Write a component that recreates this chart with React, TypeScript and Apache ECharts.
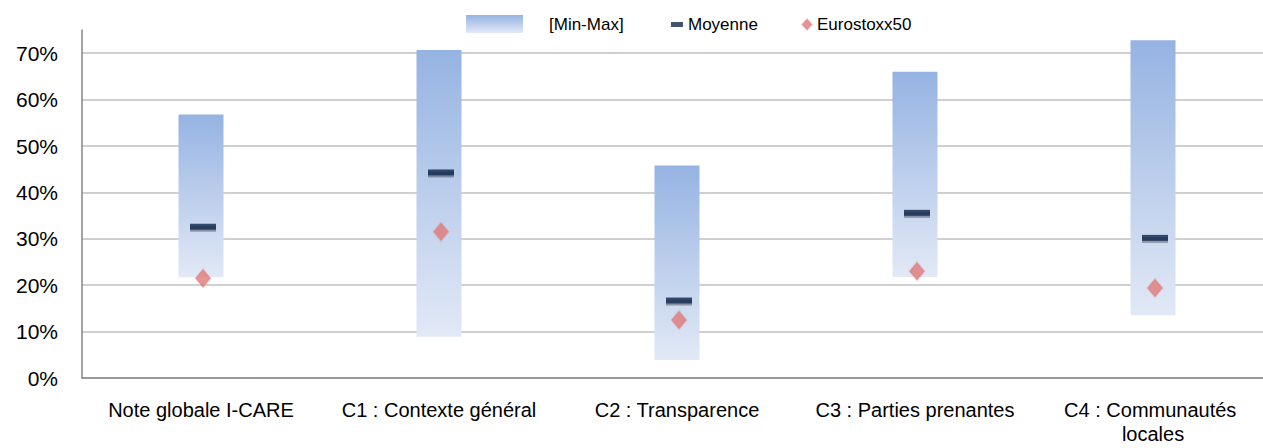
import React, { useEffect, useRef } from "react";
import * as echarts from "echarts";

const categories = [
  "Note globale I-CARE",
  "C1 : Contexte général",
  "C2 : Transparence",
  "C3 : Parties prenantes",
  "C4 : Communautés locales",
];
const minValues = [0.217, 0.089, 0.039, 0.2175, 0.135];
const maxValues = [0.568, 0.707, 0.458, 0.66, 0.728];
const meanValues = [0.326, 0.443, 0.167, 0.356, 0.302];
const euroValues = [0.215, 0.315, 0.125, 0.23, 0.194];
const yTicks = [0, 0.1, 0.2, 0.3, 0.4, 0.5, 0.6, 0.7];

const FONT = "'Liberation Sans', Arial, sans-serif";

export default function App() {
  const ref = useRef<HTMLDivElement>(null);
  useEffect(() => {
    if (!ref.current) return;
    const chart = echarts.init(ref.current, undefined, { renderer: "svg" });
    const gradient = new echarts.graphic.LinearGradient(0, 0, 0, 1, [
      { offset: 0, color: "#95b3e2" },
      { offset: 1, color: "#e2e9f6" },
    ]);
    const rangeValues = maxValues.map((m, i) => +(m - minValues[i]).toFixed(4));
    chart.setOption({
      animation: false,
      textStyle: { fontFamily: FONT },
      grid: {
        left: 82,
        right: -9,
        top: 30,
        bottom: 70,
        containLabel: false,
        outerBoundsMode: "none",
      },
      legend: [
        {
          data: [{ name: "[Min-Max]", icon: "rect" }],
          left: 466,
          top: 15,
          padding: 0,
          itemWidth: 57,
          itemHeight: 18,
          textStyle: { fontSize: 17, color: "#000", padding: [0, 0, 0, 21], fontFamily: FONT },
          selectedMode: false,
        },
        {
          data: [{ name: "Moyenne", icon: "rect" }],
          left: 671,
          top: 16,
          padding: 0,
          itemWidth: 12,
          itemHeight: 5,
          textStyle: { fontSize: 17, color: "#000", fontFamily: FONT },
          selectedMode: false,
        },
        {
          data: [{ name: "Eurostoxx50", icon: "diamond" }],
          left: 801,
          top: 16,
          padding: 0,
          itemWidth: 10,
          itemHeight: 11,
          textStyle: { fontSize: 17, color: "#000", fontFamily: FONT },
          selectedMode: false,
        },
      ],
      xAxis: {
        type: "category",
        data: categories,
        axisLine: { show: true, lineStyle: { color: "#868686", width: 1.5 } },
        axisTick: { show: false },
        axisLabel: {
          fontSize: 20,
          color: "#000",
          margin: 20,
          lineHeight: 24,
          width: 225,
          overflow: "break",
          interval: 0,
          fontFamily: FONT,
        },
      },
      yAxis: {
        type: "value",
        min: 0,
        max: 0.75,
        interval: 0.1,
        axisLine: { show: true, lineStyle: { color: "#868686", width: 1.5 } },
        axisTick: { show: false },
        axisLabel: {
          fontSize: 21,
          color: "#000",
          margin: 24,
          showMaxLabel: false,
          fontFamily: FONT,
          formatter: (v: number) => {
            const t = yTicks.find((x) => Math.abs(x - v) < 1e-6);
            return t === undefined ? "" : Math.round(t * 100) + "%";
          },
        },
        splitLine: {
          show: true,
          showMaxLine: false,
          lineStyle: { color: "#c0c0c0", width: 1.5 },
        },
      },
      series: [
        {
          name: "base",
          type: "bar",
          stack: "range",
          data: minValues,
          barWidth: 45,
          itemStyle: { color: "rgba(0,0,0,0)" },
          silent: true,
        },
        {
          name: "[Min-Max]",
          type: "bar",
          stack: "range",
          data: rangeValues,
          barWidth: 45,
          itemStyle: { color: gradient },
        },
        {
          name: "Moyenne",
          type: "scatter",
          data: meanValues,
          symbol: "rect",
          symbolSize: [26, 6],
          symbolOffset: [2, 0],
          itemStyle: {
            color: "#13284a",
            shadowColor: "rgba(0,0,0,0.4)",
            shadowBlur: 1,
            shadowOffsetY: 2,
          },
          z: 3,
        },
        {
          name: "Eurostoxx50",
          type: "scatter",
          data: euroValues,
          symbol: "diamond",
          symbolSize: [15, 18],
          symbolOffset: [2, 0],
          itemStyle: {
            color: "#e07878",
            borderColor: "rgba(224,120,120,0.35)",
            borderWidth: 2,
          },
          z: 4,
        },
      ],
    });
    return () => chart.dispose();
  }, []);
  return (
    <div
      ref={ref}
      style={{ position: "absolute", left: 0, top: 0, width: 1263, height: 448 }}
    />
  );
}
